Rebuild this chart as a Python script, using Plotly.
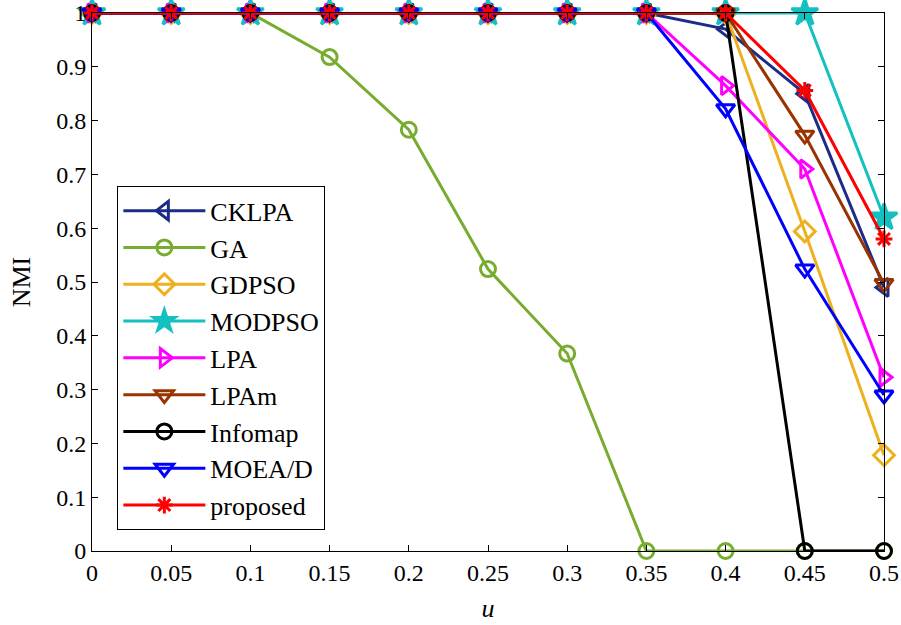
import plotly.graph_objects as go

u = [0, 0.05, 0.1, 0.15, 0.2, 0.25, 0.3, 0.35, 0.4, 0.45, 0.5]
x_tick_labels = ["0", "0.05", "0.1", "0.15", "0.2", "0.25", "0.3", "0.35", "0.4", "0.45", "0.5"]
y_tick_vals = [0, 0.1, 0.2, 0.3, 0.4, 0.5, 0.6, 0.7, 0.8, 0.9, 1]
y_tick_labels = ["0", "0.1", "0.2", "0.3", "0.4", "0.5", "0.6", "0.7", "0.8", "0.9", "1"]

cklpa = [1, 1, 1, 1, 1, 1, 1, 1, 0.97, 0.85, 0.49]
ga = [1, 1, 1, 0.918, 0.783, 0.524, 0.367, 0, 0, 0, 0]
gdpso = [1, 1, 1, 1, 1, 1, 1, 1, 1, 0.594, 0.178]
modpso = [1, 1, 1, 1, 1, 1, 1, 1, 1, 1, 0.62]
lpa = [1, 1, 1, 1, 1, 1, 1, 1, 0.865, 0.71, 0.323]
lpam = [1, 1, 1, 1, 1, 1, 1, 1, 1, 0.773, 0.497]
infomap = [1, 1, 1, 1, 1, 1, 1, 1, 1, 0, 0]
moead = [1, 1, 1, 1, 1, 1, 1, 1, 0.822, 0.524, 0.29]
proposed = [1, 1, 1, 1, 1, 1, 1, 1, 1, 0.856, 0.58]

series = [
    ("CKLPA", cklpa, "#1c2c88", "triangle-left-open", 16),
    ("GA", ga, "#77ac30", "circle-open", 15),
    ("GDPSO", gdpso, "#edb120", "diamond-open", 16),
    ("MODPSO", modpso, "#14c0c0", "star", 20),
    ("LPA", lpa, "#ff00ff", "triangle-right-open", 16),
    ("LPAm", lpam, "#993300", "triangle-down-open", 16),
    ("Infomap", infomap, "#000000", "circle-open", 15),
    ("MOEA/D", moead, "#0000ff", "triangle-down-open", 16),
    ("proposed", proposed, "#ff0000", "asterisk-open", 14),
]

fig = go.Figure()
for name, vals, color, sym, size in series:
    fig.add_trace(go.Scatter(
        x=u, y=vals, name=name, mode="lines+markers",
        line=dict(color=color, width=3),
        marker=dict(symbol=sym, size=size, color=color, line=dict(color=color, width=3)),
        cliponaxis=False,
    ))

font_family = "Liberation Serif"
fig.update_layout(
    width=901, height=625,
    margin=dict(l=92, r=17, t=13, b=74),
    paper_bgcolor="white", plot_bgcolor="white",
    font=dict(family=font_family, size=24, color="black"),
    showlegend=True,
    legend=dict(
        x=0.032, y=0.678, xanchor="left", yanchor="top",
        bordercolor="black", borderwidth=1, bgcolor="white",
        font=dict(family=font_family, size=26, color="black"),
        itemwidth=82, tracegroupgap=0,
    ),
    xaxis=dict(
        range=[0, 0.5], tickvals=u, ticktext=x_tick_labels, automargin=False,
        tickfont=dict(family=font_family, size=24),
        showgrid=False, zeroline=False, showline=True, linecolor="black", linewidth=1,
        mirror="ticks", ticks="inside", ticklen=6, tickcolor="black",
        title=dict(text="<i>u</i>", font=dict(family=font_family, size=26), standoff=14),
    ),
    yaxis=dict(
        range=[0, 1], tickvals=y_tick_vals, ticktext=y_tick_labels, automargin=False,
        tickfont=dict(family=font_family, size=24),
        showgrid=False, zeroline=False, showline=True, linecolor="black", linewidth=1,
        mirror="ticks", ticks="inside", ticklen=6, tickcolor="black",
        title=dict(text="NMI", font=dict(family=font_family, size=26), standoff=18),
    ),
)

fig.write_html(
    "out.html",
    config={"displayModeBar": False},
    post_script="document.body.style.margin='0';document.body.style.overflow='hidden';",
)
